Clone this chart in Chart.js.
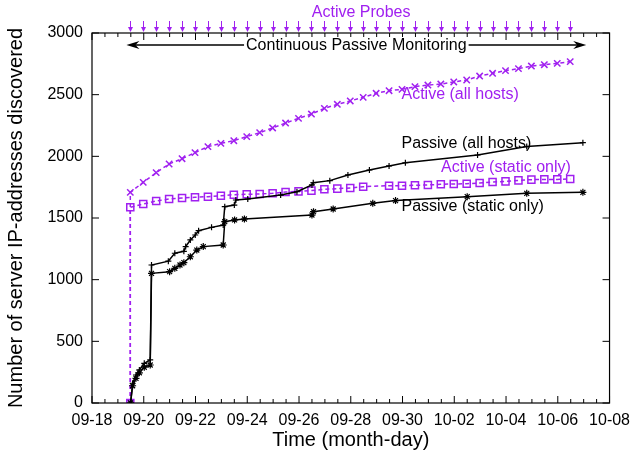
<!DOCTYPE html>
<html>
<head>
<meta charset="utf-8">
<script src="https://cdn.jsdelivr.net/npm/chart.js@4.4.1/dist/chart.umd.min.js"></script>
<style>
  html, body { margin: 0; padding: 0; background: #fff; }
</style>
</head>
<body>
<canvas id="myChart" width="638" height="456"></canvas>
<script>
// x values are days since 09-18 00:00
const xTickLabels = ["09-18", "09-20", "09-22", "09-24", "09-26", "09-28",
                     "09-30", "10-02", "10-04", "10-06", "10-08"];

// times of the active probes (twice a day)
const probeDays = [1.48, 1.98, 2.48, 2.98, 3.48, 3.98, 4.48, 4.98, 5.48, 5.98,
                   6.48, 6.98, 7.48, 7.98, 8.48, 8.98, 9.48, 9.98, 10.48, 10.98,
                   11.48, 11.98, 12.48, 12.98, 13.48, 13.98, 14.48, 14.98, 15.48, 15.98,
                   16.48, 16.98, 17.48, 17.98, 18.48];
const activeStart = 0;
const activeAll = [1708, 1789, 1868, 1938, 1981, 2030, 2079, 2105, 2127, 2160,
                   2192, 2230, 2270, 2308, 2343, 2389, 2422, 2449, 2478, 2511,
                   2532, 2543, 2565, 2578, 2586, 2603, 2619, 2651, 2673, 2695,
                   2711, 2732, 2743, 2754, 2768];
const activeStatic = [1587, 1613, 1638, 1654, 1662, 1668, 1673, 1681, 1689, 1692,
                      1695, 1700, 1711, 1716, 1722, 1733, 1738, 1743, 1754, null,
                      1762, 1762, 1765, 1768, 1773, 1776, 1778, 1784, 1792, 1797,
                      1805, 1811, 1813, 1813, 1816];

const passiveAllDays = [1.49, 1.57, 1.70, 1.83, 2.02, 2.25, 2.30, 2.95, 3.20, 3.55,
                        3.62, 3.80, 3.99, 4.12, 4.62, 5.07, 5.13, 5.50, 5.56, 6.02,
                        7.29, 7.92, 8.50, 8.55, 9.19, 9.89, 10.72, 11.48, 12.11, 14.90,
                        16.80, 18.97];
const passiveAll = [0, 160, 227, 268, 322, 349, 1119, 1150, 1214, 1230,
                    1268, 1322, 1362, 1397, 1424, 1443, 1592, 1605, 1646, 1654,
                    1686, 1713, 1768, 1786, 1803, 1849, 1889, 1922, 1948, 2011,
                    2079, 2111];

const passiveStaticDays = [1.49, 1.57, 1.70, 1.83, 2.02, 2.25, 2.30, 3.00, 3.20, 3.40,
                           3.55, 3.80, 4.05, 4.30, 5.07, 5.13, 5.51, 5.89, 8.50, 8.56,
                           9.32, 10.85, 11.73, 14.50, 16.80, 18.97];
const passiveStatic = [0, 140, 200, 245, 290, 308, 1051, 1065, 1092, 1119,
                       1138, 1186, 1240, 1268, 1281, 1470, 1484, 1492, 1524, 1551,
                       1573, 1619, 1641, 1673, 1700, 1708];

const purple = "#a020f0";
const fontFamily = "'Liberation Sans', Arial, sans-serif";

function pts(days, vals) {
  return days.map((d, i) => ({ x: d, y: vals[i] }));
}

// gnuplot-like frame, inward ticks and the text annotations
const decor = {
  id: "decor",
  afterDraw(chart) {
    const { ctx, chartArea: a, scales: { x, y } } = chart;
    ctx.save();
    ctx.strokeStyle = "#000";
    ctx.lineWidth = 1.2;
    ctx.strokeRect(a.left, a.top, a.right - a.left, a.bottom - a.top);

    ctx.lineWidth = 1;
    ctx.beginPath();
    for (let i = 0; i <= 40; i++) {
      const v = i / 2;
      const px = x.getPixelForValue(v);
      const len = i % 4 === 0 ? 7 : 4;
      ctx.moveTo(px, a.bottom); ctx.lineTo(px, a.bottom - len);
      ctx.moveTo(px, a.top); ctx.lineTo(px, a.top + len);
    }
    for (let v = 0; v <= 3000; v += 500) {
      const py = y.getPixelForValue(v);
      ctx.moveTo(a.left, py); ctx.lineTo(a.left + 7, py);
      ctx.moveTo(a.right, py); ctx.lineTo(a.right - 7, py);
    }
    ctx.stroke();

    // active probe arrows above the frame
    ctx.strokeStyle = purple;
    ctx.fillStyle = purple;
    ctx.lineWidth = 1;
    probeDays.forEach(d => {
      const px = Math.round(x.getPixelForValue(d)) + 0.5;
      ctx.beginPath();
      ctx.moveTo(px, a.top - 12); ctx.lineTo(px, a.top - 5);
      ctx.stroke();
      ctx.beginPath();
      ctx.moveTo(px - 2.5, a.top - 6);
      ctx.lineTo(px + 2.5, a.top - 6);
      ctx.lineTo(px, a.top - 1);
      ctx.closePath();
      ctx.fill();
    });
    ctx.font = "16px " + fontFamily;
    ctx.textAlign = "center";
    ctx.textBaseline = "middle";
    ctx.fillText("Active Probes", x.getPixelForValue(10.4), a.top - 20);

    // continuous passive monitoring double arrow
    const x1 = x.getPixelForValue(1.33), x2 = x.getPixelForValue(19.1);
    const ay = a.top + 12;
    ctx.strokeStyle = "#000";
    ctx.fillStyle = "#000";
    ctx.lineWidth = 1.5;
    ctx.beginPath();
    ctx.moveTo(x1 + 4, ay); ctx.lineTo(x2 - 4, ay);
    ctx.stroke();
    ctx.beginPath();
    ctx.moveTo(x1, ay); ctx.lineTo(x1 + 13, ay - 4); ctx.lineTo(x1 + 9, ay); ctx.lineTo(x1 + 13, ay + 4);
    ctx.closePath(); ctx.fill();
    ctx.beginPath();
    ctx.moveTo(x2, ay); ctx.lineTo(x2 - 13, ay - 4); ctx.lineTo(x2 - 9, ay); ctx.lineTo(x2 - 13, ay + 4);
    ctx.closePath(); ctx.fill();
    const label = "Continuous Passive Monitoring";
    const mid = (x1 + x2) / 2;
    const w = ctx.measureText(label).width;
    ctx.fillStyle = "#fff";
    ctx.fillRect(mid - w / 2 - 2, ay - 8, w + 4, 16);
    ctx.fillStyle = "#000";
    ctx.fillText(label, mid, ay + 1);

    // series labels
    ctx.textAlign = "left";
    const labels = [
      ["Active (all hosts)", 11.96, 2497, purple],
      ["Passive (all hosts)", 11.96, 2100, "#000"],
      ["Active (static only)", 13.49, 1905, purple],
      ["Passive (static only)", 11.96, 1589, "#000"]
    ];
    labels.forEach(([t, d, v, c]) => {
      ctx.fillStyle = c;
      ctx.fillText(t, x.getPixelForValue(d), y.getPixelForValue(v));
    });
    ctx.restore();
  }
};

const config = {
  type: "scatter",
  data: {
    datasets: [
      {
        label: "Passive (all hosts)",
        data: pts(passiveAllDays, passiveAll),
        showLine: true,
        borderColor: "#000",
        backgroundColor: "#000",
        borderWidth: 1.5,
        pointStyle: "cross",
        pointRadius: 3,
        pointBorderWidth: 1.2
      },
      {
        label: "Passive (static only)",
        data: pts(passiveStaticDays, passiveStatic),
        showLine: true,
        borderColor: "#000",
        backgroundColor: "#000",
        borderWidth: 1.5,
        pointStyle: "star",
        pointRadius: 3.5,
        pointBorderWidth: 1.2
      },
      {
        label: "Active (all hosts)",
        data: [{ x: probeDays[0], y: activeStart }].concat(pts(probeDays, activeAll)),
        showLine: true,
        borderColor: purple,
        backgroundColor: purple,
        borderWidth: 1.5,
        borderDash: [4, 3],
        pointStyle: "crossRot",
        pointRadius: 4.5,
        pointBorderWidth: 1.5
      },
      {
        label: "Active (static only)",
        data: [{ x: probeDays[0], y: activeStart }].concat(pts(probeDays, activeStatic)),
        showLine: true,
        spanGaps: true,
        borderColor: purple,
        backgroundColor: "rgba(0,0,0,0)",
        borderWidth: 1.5,
        borderDash: [4, 3],
        pointStyle: "rect",
        pointRadius: 5,
        pointBorderWidth: 1.5
      }
    ]
  },
  options: {
    responsive: false,
    animation: false,
    layout: { padding: { left: 0, right: 21, top: 33, bottom: 0 } },
    plugins: {
      legend: { display: false },
      tooltip: { enabled: false }
    },
    scales: {
      x: {
        type: "linear",
        min: 0,
        max: 20,
        grid: { display: false, drawTicks: false },
        border: { display: false },
        afterFit: s => { s.height = 53; },
        ticks: {
          stepSize: 2,
          autoSkip: false,
          maxRotation: 0,
          padding: 8,
          color: "#000",
          font: { family: fontFamily, size: 16 },
          callback: v => xTickLabels[Math.round(v / 2)]
        },
        title: {
          display: true,
          text: "Time (month-day)",
          color: "#000",
          font: { family: fontFamily, size: 20 },
          padding: { top: 0, bottom: 4 }
        }
      },
      y: {
        min: 0,
        max: 3000,
        grid: { display: false, drawTicks: false },
        border: { display: false },
        afterFit: s => { s.width = 92; },
        ticks: {
          stepSize: 500,
          padding: 9,
          color: "#000",
          font: { family: fontFamily, size: 16 },
          callback: v => String(v)
        },
        title: {
          display: true,
          text: "Number of server IP-addresses discovered",
          color: "#000",
          font: { family: fontFamily, size: 20 },
          padding: { top: 4, bottom: 0 }
        }
      }
    }
  },
  plugins: [decor]
};

new Chart(document.getElementById("myChart").getContext("2d"), config);
</script>
</body>
</html>
